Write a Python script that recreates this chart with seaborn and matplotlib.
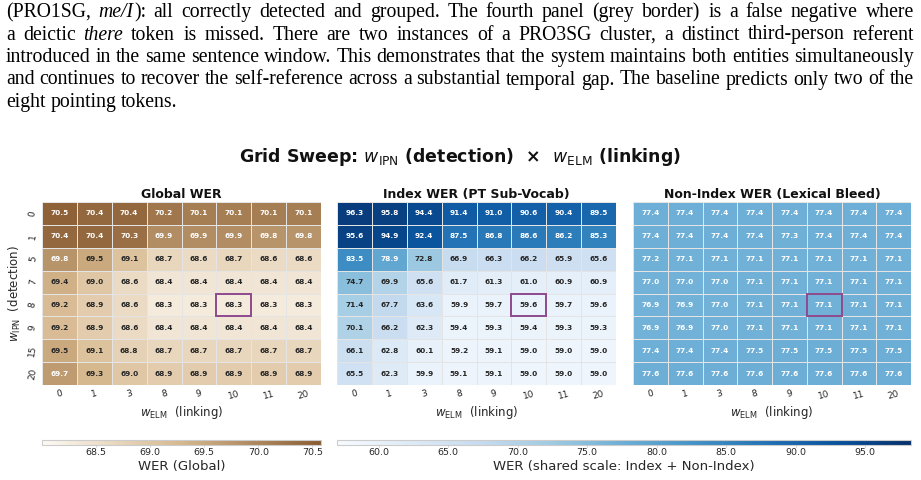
import matplotlib
matplotlib.use("Agg")
import matplotlib.pyplot as plt
from matplotlib.colors import LinearSegmentedColormap
from matplotlib.patches import Rectangle
import seaborn as sns
import pandas as pd

# ---- data -------------------------------------------------------------
w_ipn = [0, 1, 5, 7, 8, 9, 15, 20]      # detection weight (rows)
w_elm = [0, 1, 3, 8, 9, 10, 11, 20]     # linking weight (columns)

global_wer = [
    [70.5, 70.4, 70.4, 70.2, 70.1, 70.1, 70.1, 70.1],
    [70.4, 70.4, 70.3, 69.9, 69.9, 69.9, 69.8, 69.8],
    [69.8, 69.5, 69.1, 68.7, 68.6, 68.7, 68.6, 68.6],
    [69.4, 69.0, 68.6, 68.4, 68.4, 68.4, 68.4, 68.4],
    [69.2, 68.9, 68.6, 68.3, 68.3, 68.3, 68.3, 68.3],
    [69.2, 68.9, 68.6, 68.4, 68.4, 68.4, 68.4, 68.4],
    [69.5, 69.1, 68.8, 68.7, 68.7, 68.7, 68.7, 68.7],
    [69.7, 69.3, 69.0, 68.9, 68.9, 68.9, 68.9, 68.9],
]
index_wer = [
    [96.3, 95.8, 94.4, 91.4, 91.0, 90.6, 90.4, 89.5],
    [95.6, 94.9, 92.4, 87.5, 86.8, 86.6, 86.2, 85.3],
    [83.5, 78.9, 72.8, 66.9, 66.3, 66.2, 65.9, 65.6],
    [74.7, 69.9, 65.6, 61.7, 61.3, 61.0, 60.9, 60.9],
    [71.4, 67.7, 63.6, 59.9, 59.7, 59.6, 59.7, 59.6],
    [70.1, 66.2, 62.3, 59.4, 59.3, 59.4, 59.3, 59.3],
    [66.1, 62.8, 60.1, 59.2, 59.1, 59.0, 59.0, 59.0],
    [65.5, 62.3, 59.9, 59.1, 59.1, 59.0, 59.0, 59.0],
]
nonindex_wer = [
    [77.4, 77.4, 77.4, 77.4, 77.4, 77.4, 77.4, 77.4],
    [77.4, 77.4, 77.4, 77.4, 77.3, 77.4, 77.4, 77.4],
    [77.2, 77.1, 77.1, 77.1, 77.1, 77.1, 77.1, 77.1],
    [77.0, 77.0, 77.0, 77.1, 77.1, 77.1, 77.1, 77.1],
    [76.9, 76.9, 77.0, 77.1, 77.1, 77.1, 77.1, 77.1],
    [76.9, 76.9, 77.0, 77.1, 77.1, 77.1, 77.1, 77.1],
    [77.4, 77.4, 77.4, 77.5, 77.5, 77.5, 77.5, 77.5],
    [77.6, 77.6, 77.6, 77.6, 77.6, 77.6, 77.6, 77.6],
]
best_ipn, best_elm = 8, 10

global_ticks = [68.5, 69.0, 69.5, 70.0, 70.5]
shared_ticks = [60, 65, 70, 75, 80, 85, 90, 95]

# paragraph from the page above the figure (*...* = italic)
paper_lines = [
    "(PRO1SG, *me/I*): all correctly detected and grouped.  The fourth panel (grey border) is a false negative where",
    "a deictic *there* token is missed.  There are two instances of a PRO3SG cluster, a distinct third-person referent",
    "introduced in the same sentence window. This demonstrates that the system maintains both entities simultaneously",
    "and continues to recover the self-reference across a substantial temporal gap. The baseline predicts only two of the",
    "eight pointing tokens.",
]

# ---- style ------------------------------------------------------------
sns.set_theme(style="white")
plt.rcParams['font.family'] = ['DejaVu Sans']

W_PX, H_PX = 921, 480
fig = plt.figure(figsize=(W_PX / 100, H_PX / 100), dpi=100)
fig.patch.set_facecolor('white')


def px_rect(x0, y0, x1, y1):
    """pixel box (top-left origin) -> figure fraction rect"""
    return [x0 / W_PX, 1 - y1 / H_PX, (x1 - x0) / W_PX, (y1 - y0) / H_PX]


# ---- paper text (justified like the page) -----------------------------
PAPER_SIZE = 14.2
renderer = fig.canvas.get_renderer()


def draw_line(line, y_px, left=6, right=914, justify=True):
    y = 1 - y_px / H_PX
    words = []
    for word in line.split():
        parts = []
        for k, chunk in enumerate(word.split('*')):
            if not chunk:
                continue
            t = fig.text(0, y, chunk, fontsize=PAPER_SIZE, family='Liberation Serif',
                         style='italic' if k % 2 else 'normal',
                         va='baseline', ha='left', color='black')
            parts.append((t, t.get_window_extent(renderer).width))
        words.append(parts)
    total = sum(w for parts in words for _, w in parts)
    if justify:
        gap = (right - left - total) / (len(words) - 1)
    else:
        gap = 0.25 * PAPER_SIZE * 100 / 72
    x = left
    for parts in words:
        for t, w in parts:
            t.set_x(x / W_PX)
            x += w
        x += gap


for i, line in enumerate(paper_lines):
    draw_line(line, 17 + i * 22.5, justify=(i < len(paper_lines) - 1))

# ---- heatmaps ---------------------------------------------------------
brown = LinearSegmentedColormap.from_list("wer_brown", ["#fdfaf4", "#d6b88e", "#8a5c32"])
shared_min = min(min(r) for r in index_wer + nonindex_wer) - 2
shared_max = max(max(r) for r in index_wer + nonindex_wer) + 2

panels = [
    (global_wer, "Global WER", brown, 68.0, 70.58, (42, 321)),
    (index_wer, "Index WER (PT Sub-Vocab)", "Blues", shared_min, shared_max, (337, 616)),
    (nonindex_wer, "Non-Index WER (Lexical Bleed)", "Blues", shared_min, shared_max, (633, 911)),
]

axes = []
for k, (vals, title, cmap, vmin, vmax, (x0, x1)) in enumerate(panels):
    ax = fig.add_axes(px_rect(x0, 202, x1, 385))
    df = pd.DataFrame(vals, index=w_ipn, columns=w_elm)
    sns.heatmap(df, ax=ax, cmap=cmap, vmin=vmin, vmax=vmax, cbar=False,
                annot=True, fmt=".1f",
                annot_kws={'fontsize': 5.3, 'fontweight': 'bold'},
                linewidths=0.6, linecolor='#e4e4e4')
    ax.set_title(title, fontsize=9, fontweight='bold', pad=3, color='#111111')
    ax.set_xticklabels(w_elm, rotation=15, fontsize=6.5)
    ax.set_xlabel(r"$w_{\mathrm{ELM}}$  (linking)", fontsize=8.5, labelpad=2)
    if k == 0:
        ax.set_yticklabels(w_ipn, rotation=80, fontsize=6.5, va='center')
        ax.set_ylabel(r"$w_{\mathrm{IPN}}$  (detection)", fontsize=8.5, labelpad=3)
    else:
        ax.set_yticks([])
        ax.set_ylabel('')
    ax.tick_params(length=0, pad=3)

    # best setting
    r, c = w_ipn.index(best_ipn), w_elm.index(best_elm)
    ax.add_patch(Rectangle((c, r), 1, 1, fill=False, edgecolor='#8e4a8e', lw=1.4, zorder=5))
    axes.append(ax)

# ---- colorbars --------------------------------------------------------
for src, (x0, x1), ticks, label in [
    (axes[0], (42, 321), global_ticks, "WER (Global)"),
    (axes[1], (337, 911), shared_ticks, "WER (shared scale: Index + Non-Index)"),
]:
    cax = fig.add_axes(px_rect(x0, 440, x1, 445))
    cb = fig.colorbar(src.collections[0], cax=cax, orientation='horizontal')
    cb.set_ticks(ticks)
    cb.set_ticklabels([f"{t:.1f}" for t in ticks])
    cb.ax.tick_params(labelsize=6.8, length=1.5, width=0.5, pad=1, color='#bbbbbb')
    cb.outline.set_edgecolor('#cccccc')
    cb.outline.set_linewidth(0.8)
    cb.set_label(label, fontsize=9.5, labelpad=2)

fig.text(0.5, 1 - 157 / H_PX,
         r"Grid Sweep: $w_{\mathrm{IPN}}$ (detection)  ×  $w_{\mathrm{ELM}}$ (linking)",
         ha='center', va='center', fontsize=12.5, fontweight='bold', color='#111111')

fig.savefig("out.png", dpi=100, facecolor='white')
